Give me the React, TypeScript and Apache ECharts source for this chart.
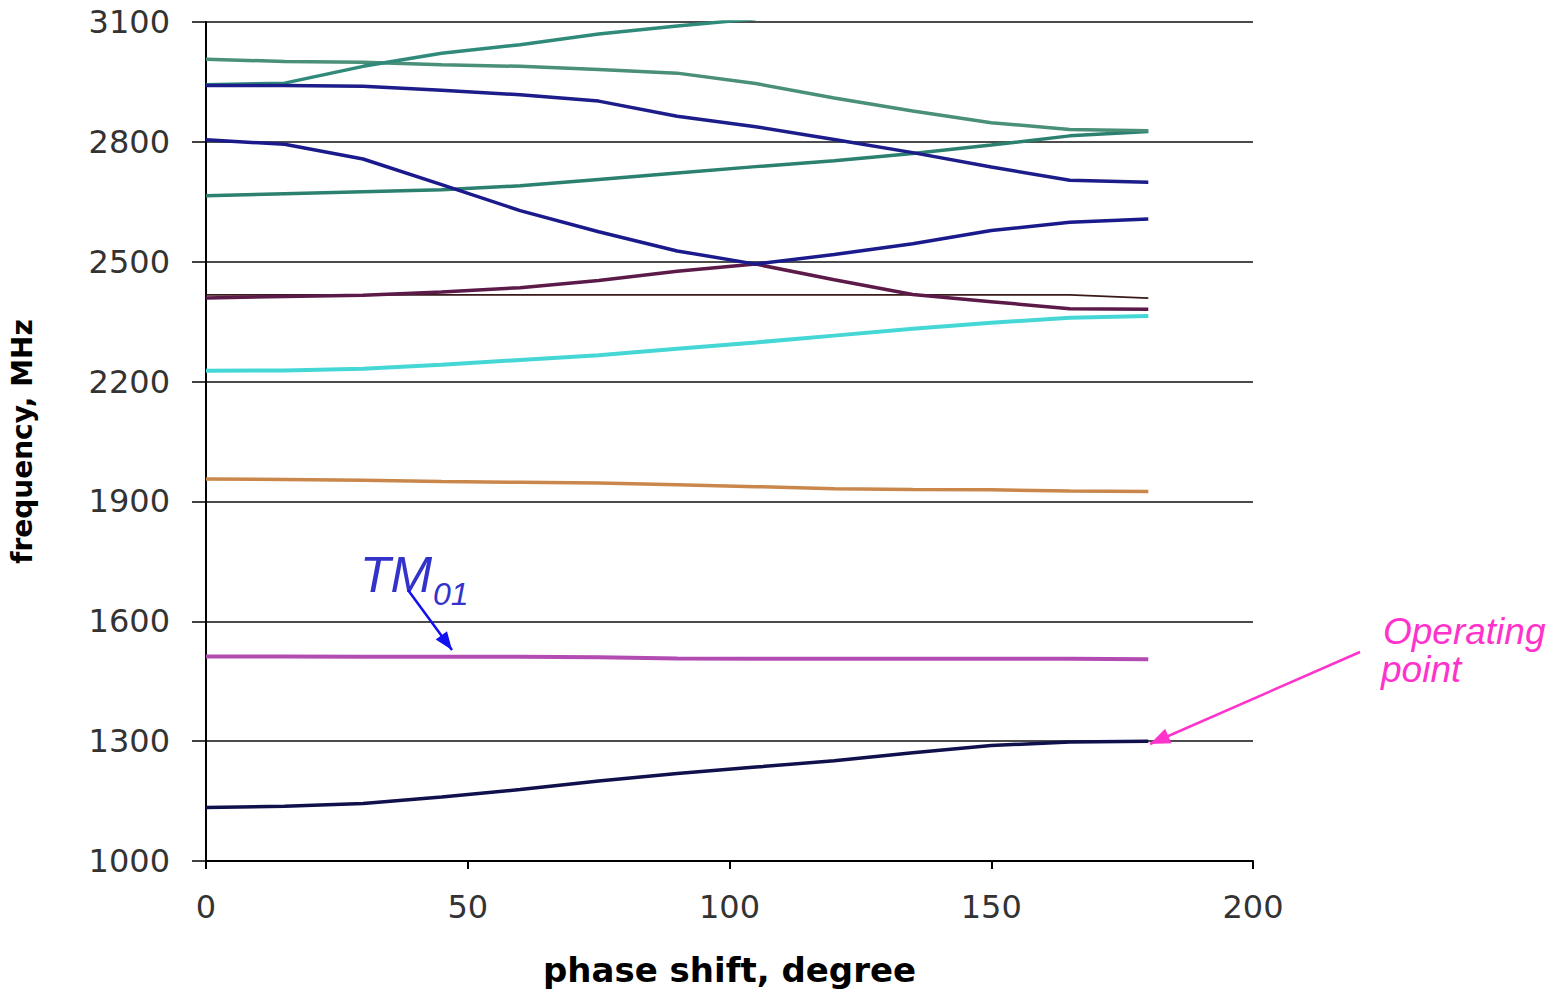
import React, { useEffect, useRef } from "react";
import * as echarts from "echarts";

// phase shift, degree
const PHASE = [0, 15, 30, 45, 60, 75, 90, 105, 120, 135, 150, 165, 180];

// frequency, MHz
const OPERATING_MODE = [1134, 1137, 1144, 1160, 1179, 1200, 1219, 1235, 1251, 1271, 1289, 1298, 1300];
const TM01_MODE = [1512, 1512, 1511, 1511, 1511, 1510, 1507, 1506, 1506, 1506, 1506, 1506, 1505];
const ORANGE_MODE = [1956, 1955, 1953, 1950, 1948, 1946, 1942, 1937, 1932, 1930, 1929, 1926, 1925];
const CYAN_MODE = [2227, 2228, 2232, 2242, 2254, 2266, 2282, 2298, 2315, 2332, 2347, 2360, 2364];
const PURPLE_MODE = [2409, 2413, 2416, 2424, 2435, 2453, 2476, 2494, 2455, 2418, 2400, 2382, 2381];
const THIN_MODE = [2417, 2417, 2417, 2417, 2417, 2417, 2417, 2417, 2417, 2417, 2417, 2417, 2409];
const NAVY_CROSS_MODE = [2805, 2794, 2757, 2693, 2628, 2575, 2527, 2494, 2518, 2545, 2578, 2599, 2607];
const TEAL_LOW_MODE = [2665, 2670, 2675, 2680, 2690, 2706, 2722, 2738, 2753, 2771, 2792, 2815, 2826];
const NAVY_HIGH_MODE = [2941, 2941, 2939, 2929, 2918, 2902, 2864, 2838, 2806, 2773, 2737, 2704, 2699];
const GREEN_TOP_MODE = [3007, 3001, 2999, 2993, 2989, 2981, 2972, 2946, 2910, 2877, 2848, 2831, 2828];
const TEAL_RISE_MODE = [2943, 2947, 2989, 3022, 3043, 3070, 3090, 3108];

const Y_MIN = 1000;
const Y_MAX = 3100;
const Y_STEP = 300;
const X_MIN = 0;
const X_MAX = 200;
const X_STEP = 50;

export default function App() {
  const ref = useRef<HTMLDivElement>(null);

  useEffect(() => {
    if (!ref.current) return;
    const chart = echarts.init(ref.current, null, { renderer: "svg" });

    const pair = (ys: number[]) => ys.map((y, i) => [PHASE[i], y]);
    const mk = (name: string, ys: number[], color: string, width = 3.5) => ({
      name,
      type: "line",
      data: pair(ys),
      symbol: "none",
      showSymbol: false,
      clip: true,
      silent: true,
      lineStyle: { color, width },
      itemStyle: { color },
      z: 3,
    });

    // arrow geometry helpers (annotation only)
    const arrowHead = (x1: number, y1: number, x2: number, y2: number, len: number, half: number) => {
      const dx = x2 - x1;
      const dy = y2 - y1;
      const l = Math.sqrt(dx * dx + dy * dy);
      const ux = dx / l;
      const uy = dy / l;
      const bx = x2 - ux * len;
      const by = y2 - uy * len;
      const px = -uy * half;
      const py = ux * half;
      return [
        [x2, y2],
        [bx + px, by + py],
        [bx - px, by - py],
      ];
    };

    const blueArrow = { x1: 408, y1: 590, x2: 452, y2: 650 };
    const pinkArrow = { x1: 1360, y1: 652, x2: 1150, y2: 744 };

    chart.setOption({
      animation: false,
      backgroundColor: "#ffffff",
      grid: { left: 204, right: 310, top: 22, bottom: 126, containLabel: false },
      xAxis: {
        type: "value",
        min: X_MIN,
        max: X_MAX,
        interval: X_STEP,
        name: "phase shift, degree",
        nameLocation: "middle",
        nameGap: 92,
        nameTextStyle: {
          fontFamily: "DejaVu Sans",
          fontWeight: "bold",
          fontSize: 34,
          color: "#000",
        },
        axisLine: { show: true, onZero: false, lineStyle: { color: "#000", width: 2 } },
        axisTick: { show: true, length: 8, lineStyle: { color: "#000", width: 2 } },
        axisLabel: {
          fontFamily: "DejaVu Sans",
          fontSize: 32,
          color: "#333",
          margin: 30,
          formatter: (v: number) => String(v),
        },
        splitLine: { show: false },
      },
      yAxis: {
        type: "value",
        min: Y_MIN,
        max: Y_MAX,
        interval: Y_STEP,
        name: "frequency, MHz",
        nameLocation: "middle",
        nameGap: 170,
        nameTextStyle: {
          fontFamily: "DejaVu Sans",
          fontWeight: "bold",
          fontSize: 28,
          color: "#000",
        },
        axisLine: { show: true, onZero: false, lineStyle: { color: "#000", width: 2 } },
        axisTick: { show: true, length: 14, lineStyle: { color: "#000", width: 1.5 } },
        axisLabel: {
          fontFamily: "DejaVu Sans",
          fontSize: 32,
          color: "#333",
          margin: 36,
          formatter: (v: number) => String(v),
        },
        splitLine: { show: true, lineStyle: { color: "#111", width: 1.6 } },
      },
      series: [
        mk("thin", THIN_MODE, "#3a1a1a", 1.8),
        mk("cyan", CYAN_MODE, "#45d6d6", 4),
        mk("orange", ORANGE_MODE, "#c9874c", 3.5),
        mk("TM01", TM01_MODE, "#b24cb2", 4),
        mk("operating", OPERATING_MODE, "#10104c", 3.5),
        mk("purple", PURPLE_MODE, "#5c1a48", 3.5),
        mk("tealLow", TEAL_LOW_MODE, "#2b8070", 3.5),
        mk("greenTop", GREEN_TOP_MODE, "#4a8f78", 3.5),
        mk("tealRise", TEAL_RISE_MODE, "#2f8a7a", 3.5),
        mk("navyHigh", NAVY_HIGH_MODE, "#1c1c8a", 3.5),
        mk("navyCross", NAVY_CROSS_MODE, "#1a1a8c", 3.5),
      ],
      graphic: [
        {
          type: "text",
          z: 10,
          style: {
            text: "TM",
            x: 360,
            y: 575,
            font: 'italic 50px "Liberation Sans"',
            fill: "#3333cc",
            align: "left",
            verticalAlign: "middle",
            textAlign: "left",
            textVerticalAlign: "middle",
          },
        },
        {
          type: "text",
          z: 10,
          style: {
            text: "01",
            x: 433,
            y: 594,
            font: 'italic 32px "Liberation Sans"',
            fill: "#3333cc",
            align: "left",
            verticalAlign: "middle",
            textAlign: "left",
            textVerticalAlign: "middle",
          },
        },
        {
          type: "line",
          z: 10,
          shape: blueArrow,
          style: { stroke: "#1010f0", lineWidth: 2.5 },
        },
        {
          type: "polygon",
          z: 10,
          shape: { points: arrowHead(blueArrow.x1, blueArrow.y1, blueArrow.x2, blueArrow.y2, 18, 7) },
          style: { fill: "#1010f0" },
        },
        {
          type: "text",
          z: 10,
          style: {
            text: "Operating",
            x: 1383,
            y: 631,
            font: 'italic 37px "Liberation Sans"',
            fill: "#ff33cc",
            align: "left",
            verticalAlign: "middle",
            textAlign: "left",
            textVerticalAlign: "middle",
          },
        },
        {
          type: "text",
          z: 10,
          style: {
            text: "point",
            x: 1381,
            y: 669,
            font: 'italic 37px "Liberation Sans"',
            fill: "#ff33cc",
            align: "left",
            verticalAlign: "middle",
            textAlign: "left",
            textVerticalAlign: "middle",
          },
        },
        {
          type: "line",
          z: 10,
          shape: pinkArrow,
          style: { stroke: "#ff33cc", lineWidth: 2.5 },
        },
        {
          type: "polygon",
          z: 10,
          shape: { points: arrowHead(pinkArrow.x1, pinkArrow.y1, pinkArrow.x2, pinkArrow.y2, 20, 8) },
          style: { fill: "#ff33cc" },
        },
      ],
    });

    return () => chart.dispose();
  }, []);

  return (
    <div
      ref={ref}
      style={{ position: "fixed", left: 0, top: 0, width: 1563, height: 992 }}
    />
  );
}
